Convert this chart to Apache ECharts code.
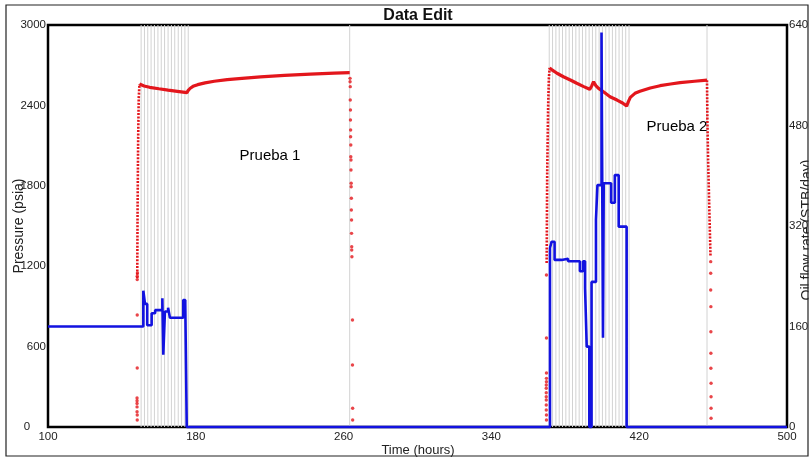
<!DOCTYPE html>
<html>
<head>
<meta charset="utf-8">
<title>Data Edit</title>
<script src="https://cdn.jsdelivr.net/npm/echarts/dist/echarts.min.js"></script>
<style>
  html, body { margin: 0; padding: 0; background: #fff; }
  #chart { width: 812px; height: 459px; }
</style>
</head>
<body>
<div id="chart"></div>
<script>
// ---- Oil flow rate (STB/day), stepped: value holds from each time until the next ----
const rateTime  = [100, 151.6, 152.5, 153.7, 156.1, 158.0, 161.9, 162.4, 163.3, 165.0, 166.0, 173.2, 174.3, 175.1,
                   371.7, 372.6, 374.2, 378.0, 381.5, 387.9, 389.6, 390.7, 391.6, 393.0,
                   394.2, 396.6, 397.4, 399.6, 400.4, 400.8, 404.8, 406.8, 408.9, 413.2, 500];
const rateValue = [160, 217, 196, 162, 181, 186, 205, 115, 184, 190, 174, 202, 197, 0,
                   285, 295, 266, 268, 264, 248, 264, 221, 128, 0,
                   231, 330, 385, 628, 142, 388, 357, 401, 319, 0, 0];

// ---- Pressure (psia): continuous gauge record for each test ----
const test1Time = [149.5, 150.5, 152, 155, 160, 165, 170, 175.2, 175.9, 177, 178.5, 181, 185, 190, 197, 205, 215, 228, 242, 255, 263.3];
const test1Psi  = [2560, 2552, 2545, 2535, 2524, 2514, 2505, 2495, 2512, 2528, 2542, 2555, 2568, 2580, 2592, 2602, 2613, 2624, 2634, 2641, 2645];

const test2Time = [371.5, 373, 375.5, 379, 383, 386.2, 390, 393.2, 394.3, 395.3, 396.5, 398, 401, 404.2, 408, 411, 413.2,
                   414.2, 415.2, 417.7, 420.4, 426, 431.3, 437, 442.1, 450, 456.7];
const test2Psi  = [2680, 2663, 2640, 2614, 2588, 2565, 2540, 2520, 2545, 2577, 2548, 2527, 2498, 2465, 2440, 2418, 2395,
                   2430, 2460, 2490, 2505, 2530, 2547, 2560, 2570, 2580, 2588];

// ---- Pressure: densely sampled run-in / pull-out ramps ----
const ramp1Time = [148.3, 148.5, 148.8, 149.1, 149.5];
const ramp1Psi  = [1110, 1650, 2150, 2450, 2560];
const ramp2Time = [369.9, 370.2, 370.7, 371.1, 371.5];
const ramp2Psi  = [1224, 1896, 2388, 2600, 2680];
const ramp3Time = [456.7, 456.9, 457.3, 458.0, 458.6];
const ramp3Psi  = [2588, 2300, 1993, 1600, 1269];

// ---- Pressure: sparse gauge samples while tripping ----
const dots1Time = [148.4, 148.3, 148.3, 148.3, 148.3, 148.2, 148.2, 148.2, 148.2, 148.2, 148.3, 148.3];
const dots1Psi  = [1150, 1125, 1100, 836, 440, 216, 196, 175, 150, 114, 90, 52];
const dots2Time = [263.5, 263.5, 263.6, 263.6, 263.7, 263.7, 263.8, 263.8, 263.9, 263.9, 264.0, 264.0, 264.1,
                   264.1, 264.2, 264.2, 264.3, 264.3, 264.4, 264.4, 264.5, 264.8, 264.8, 264.9, 264.9];
const dots2Psi  = [2602, 2577, 2540, 2440, 2366, 2291, 2216, 2166, 2104, 2017, 1993, 1918, 1819,
                   1793, 1707, 1619, 1545, 1445, 1346, 1321, 1271, 799, 463, 140, 52];
const dots3Time = [369.8, 369.8, 369.8, 369.8, 369.8, 369.7, 369.7, 369.7, 369.7, 369.7, 369.7, 369.7, 369.8, 369.8];
const dots3Psi  = [1134, 664, 403, 363, 338, 313, 289, 256, 226, 201, 164, 127, 90, 52];
const dots4Time = [458.7, 458.7, 458.7, 458.8, 458.8, 458.8, 458.8, 458.9, 458.9, 458.9, 458.9];
const dots4Psi  = [1234, 1147, 1022, 898, 711, 550, 438, 326, 226, 140, 65];

// ---- Times of edited data points (vertical markers) ----
const editTimes = [150.4, 152.2, 154.0, 155.8, 157.6, 159.5, 161.3, 163.1, 165.0, 166.8, 168.6, 170.5, 172.3, 174.1, 175.9,
                   263.3,
                   371.3, 373.1, 374.9, 376.7, 378.5, 380.3, 382.1, 383.9, 385.7, 387.5, 389.3, 391.1, 392.9,
                   394.7, 396.5, 398.3, 400.1, 401.9, 403.7, 405.5, 407.3, 409.1, 410.9, 412.7, 414.5,
                   456.7];

// ---- Axis ticks and text ----
const timeTicks = [100, 500, 80];       // min, max, interval
const pressureTicks = [0, 3000, 600];
const rateTicks = [0, 640, 160];
const chartTitle = 'Data Edit';
const axisNames = ['Time (hours)', 'Pressure (psia)', 'Oil flow rate (STB/day)'];
const testLabels = ['Prueba 1', 'Prueba 2'];

const NARROW = '"Liberation Sans Narrow", "Arial Narrow", "Liberation Sans", Arial, sans-serif';
const SANS = '"Liberation Sans", Arial, sans-serif';
const RED = '#e3161c';
const BLUE = '#1212e0';

const pair = (ts, vs) => ts.map((t, i) => [t, vs[i]]);

const chart = echarts.init(document.getElementById('chart'), null, { renderer: 'canvas' });

const tickLabel = { fontFamily: NARROW, fontSize: 11.5, color: '#222' };

const rampSeries = (ts, vs) => ({
  type: 'line',
  data: pair(ts, vs),
  showSymbol: false,
  silent: true,
  z: 3,
  lineStyle: { color: RED, width: 2.6, type: [2, 1.4] }
});

const option = {
  animation: false,
  backgroundColor: '#fff',
  grid: {
    left: 48, right: 25, top: 25, bottom: 32,
    show: true, backgroundColor: '#fff', borderColor: '#000', borderWidth: 2.5
  },
  xAxis: {
    type: 'value',
    min: timeTicks[0], max: timeTicks[1], interval: timeTicks[2],
    axisLine: { show: false },
    axisTick: { show: false },
    splitLine: { show: false },
    axisLabel: Object.assign({ margin: 4 }, tickLabel)
  },
  yAxis: [
    {
      type: 'value',
      min: pressureTicks[0], max: pressureTicks[1], interval: pressureTicks[2],
      axisLine: { show: false },
      axisTick: { show: false },
      splitLine: { show: false },
      axisLabel: Object.assign({
        margin: 2,
        formatter: v => (v === 0 ? '0     ' : String(v))
      }, tickLabel)
    },
    {
      type: 'value',
      position: 'right',
      min: rateTicks[0], max: rateTicks[1], interval: rateTicks[2],
      axisLine: { show: false },
      axisTick: { show: false },
      splitLine: { show: false },
      axisLabel: Object.assign({ margin: 2 }, tickLabel)
    }
  ],
  series: [
    {
      // vertical markers at edited sample times
      type: 'custom',
      data: editTimes.map(t => [t]),
      silent: true,
      z: 1,
      renderItem: (params, api) => {
        const t = api.value(0);
        const top = api.coord([t, pressureTicks[1]]);
        const bot = api.coord([t, pressureTicks[0]]);
        return {
          type: 'line',
          shape: { x1: top[0], y1: top[1], x2: bot[0], y2: bot[1] },
          style: { stroke: '#d2d2d2', lineWidth: 1 }
        };
      }
    },
    {
      type: 'line', data: pair(test1Time, test1Psi), showSymbol: false, silent: true, z: 3,
      lineStyle: { color: RED, width: 3.2 }
    },
    {
      type: 'line', data: pair(test2Time, test2Psi), showSymbol: false, silent: true, z: 3,
      lineStyle: { color: RED, width: 3.2 }
    },
    rampSeries(ramp1Time, ramp1Psi),
    rampSeries(ramp2Time, ramp2Psi),
    rampSeries(ramp3Time, ramp3Psi),
    {
      type: 'scatter',
      data: [].concat(pair(dots1Time, dots1Psi), pair(dots2Time, dots2Psi),
                      pair(dots3Time, dots3Psi), pair(dots4Time, dots4Psi)),
      symbol: 'circle', symbolSize: 3.4, silent: true, z: 3,
      itemStyle: { color: RED }
    },
    {
      type: 'line',
      yAxisIndex: 1,
      data: pair(rateTime, rateValue),
      step: 'end',
      showSymbol: false,
      silent: true,
      clip: false,
      z: 4,
      lineStyle: { color: BLUE, width: 2.6 }
    }
  ],
  graphic: [
    {
      type: 'text', x: 418, y: 16, z: 10,
      style: { text: chartTitle, fontFamily: NARROW, fontSize: 16, fontWeight: 'bold', fill: '#111', align: 'center', verticalAlign: 'middle' }
    },
    {
      type: 'text', x: 418, y: 450, z: 10,
      style: { text: axisNames[0], fontFamily: NARROW, fontSize: 13, fill: '#222', align: 'center', verticalAlign: 'middle' }
    },
    {
      type: 'text', x: 19, y: 226, rotation: Math.PI / 2, z: 10,
      style: { text: axisNames[1], fontFamily: SANS, fontSize: 14, fill: '#222', align: 'center', verticalAlign: 'middle' }
    },
    {
      type: 'text', x: 807, y: 230, rotation: Math.PI / 2, z: 10,
      style: { text: axisNames[2], fontFamily: SANS, fontSize: 14, fill: '#222', align: 'center', verticalAlign: 'middle' }
    },
    {
      type: 'text', x: 270, y: 156, z: 10,
      style: { text: testLabels[0], fontFamily: SANS, fontSize: 15, fill: '#000', align: 'center', verticalAlign: 'middle' }
    },
    {
      type: 'text', x: 677, y: 127, z: 10,
      style: { text: testLabels[1], fontFamily: SANS, fontSize: 15, fill: '#000', align: 'center', verticalAlign: 'middle' }
    },
    {
      // trims the right-hand axis title at the frame
      type: 'rect', z: 20, silent: true,
      shape: { x: 808.5, y: 0, width: 4, height: 459 },
      style: { fill: '#fff' }
    },
    {
      type: 'rect', z: 21, silent: true,
      shape: { x: 6, y: 5, width: 802, height: 451 },
      style: { fill: 'none', stroke: '#222', lineWidth: 1.2 }
    }
  ]
};

chart.setOption(option);
</script>
</body>
</html>
